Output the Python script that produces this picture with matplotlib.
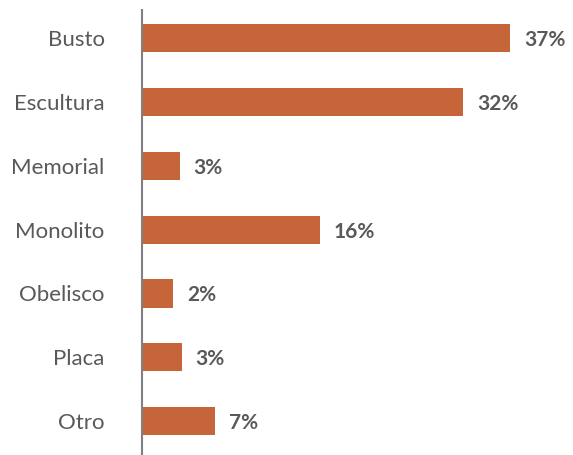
import numpy as np
import matplotlib.pyplot as plt

categories = ["Busto", "Escultura", "Memorial", "Monolito", "Obelisco", "Placa", "Otro"]
values = [37.0, 32.3, 3.8, 17.9, 3.1, 4.0, 7.3]
labels = ["37%", "32%", "3%", "16%", "2%", "3%", "7%"]

plt.rcParams['font.family'] = ['Lato', 'DejaVu Sans']

fig = plt.figure(figsize=(5.73, 4.55), dpi=100)
ax = fig.add_axes([142 / 573, 0, 1 - 142 / 573, 445 / 455])

y = np.arange(len(categories))
ax.barh(y, values, height=0.44, color="#C66539")

for yi, v, lab in zip(y, values, labels):
    ax.text(v + 1.4, yi + 0.03, lab, va="center", ha="left", fontsize=15,
            fontweight="bold", color="#595959")

ax.set_xlim(0, 431 / 9.95)
ax.set_ylim(6.53, -0.44)
ax.set_yticks(y)
ax.set_yticklabels(categories, fontsize=16, color="#595959")
ax.tick_params(axis="y", length=0, pad=27)
ax.set_xticks([])

for s in ["top", "right", "bottom"]:
    ax.spines[s].set_visible(False)
ax.spines["left"].set_color("#808080")
ax.spines["left"].set_linewidth(1.5)

fig.savefig("out.png", dpi=100)
